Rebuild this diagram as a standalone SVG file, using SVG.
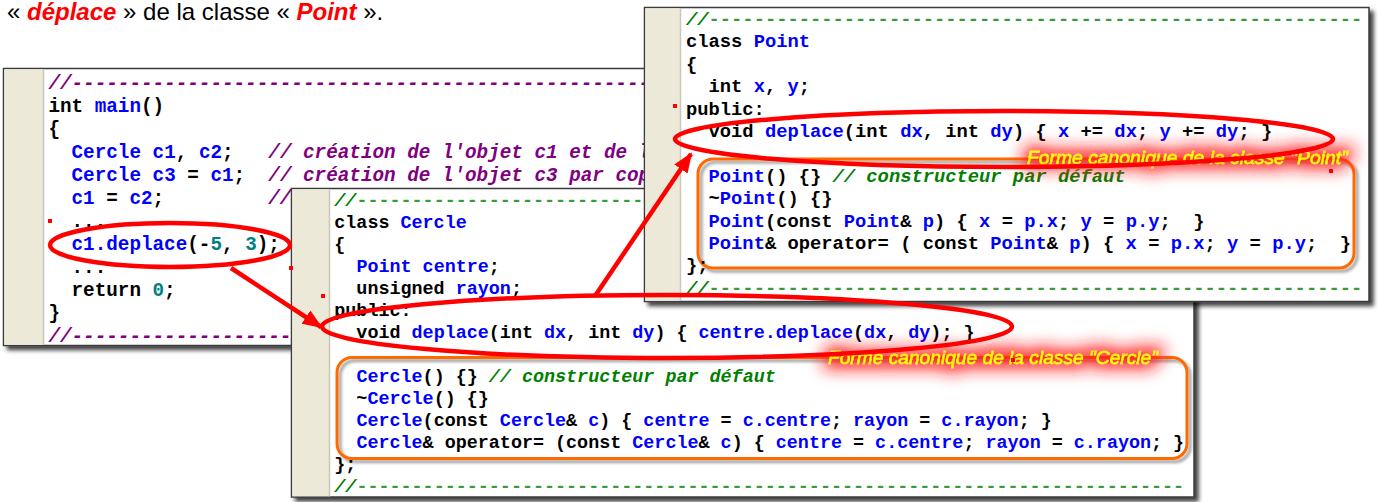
<svg xmlns="http://www.w3.org/2000/svg" width="1379" height="502" viewBox="0 0 1379 502">
<style>
.code{font-family:"Liberation Mono","DejaVu Sans Mono",monospace;font-weight:bold;fill:#000;white-space:pre}
.L{font-size:19.3px}
.M{font-size:18.4px}
.R{font-size:18.8px}
.b{fill:#0000ff}
.n{fill:#008080}
.cp{fill:#800080;font-style:italic}
.cg{fill:#008000;font-style:italic}
.dg{fill:#3a9a3a}
.win{fill:#fff;stroke:#3a3a3a;stroke-width:1.5}
.gut{fill:#ECE9D8}
.sep{stroke:#c9c7b8;stroke-width:1.5}
.obox{fill:none;stroke:#ff6a00;stroke-width:3}
.hl{fill:none;stroke:#ff0000;stroke-width:4.5}
.arr{stroke:#ff0000;stroke-width:4.5;fill:none}
.lbl{font-family:"Liberation Sans",Arial,sans-serif;font-style:italic;font-size:19px;fill:#ffff00;stroke:#ffee00;stroke-width:0.4}
.top{font-family:"Liberation Sans",Arial,sans-serif;font-size:24px;fill:#000;white-space:pre}
.red{fill:#ff0000;font-weight:bold;font-style:italic}
.mk{fill:#ff0000}
</style>
<defs>
<filter id="shadow" x="-5%" y="-5%" width="110%" height="115%">
<feGaussianBlur in="SourceAlpha" stdDeviation="2"/>
<feOffset dx="4" dy="4" result="o"/>
<feComponentTransfer><feFuncA type="linear" slope="0.75"/></feComponentTransfer>
<feMerge><feMergeNode/><feMergeNode in="SourceGraphic"/></feMerge>
</filter>
<filter id="bshadow" x="-5%" y="-10%" width="110%" height="130%">
<feGaussianBlur in="SourceAlpha" stdDeviation="1.5"/>
<feOffset dx="3" dy="3"/>
<feComponentTransfer><feFuncA type="linear" slope="0.4"/></feComponentTransfer>
<feMerge><feMergeNode/><feMergeNode in="SourceGraphic"/></feMerge>
</filter>
<filter id="glow" x="-15%" y="-150%" width="130%" height="400%">
<feMorphology in="SourceAlpha" operator="dilate" radius="5" result="d"/>
<feGaussianBlur in="d" stdDeviation="8" result="bl"/>
<feFlood flood-color="#ff1a1a" flood-opacity="0.9"/>
<feComposite in2="bl" operator="in" result="g"/>
<feMerge><feMergeNode in="g"/><feMergeNode in="SourceGraphic"/></feMerge>
</filter>
<clipPath id="clipL"><rect x="44" y="69" width="640" height="276"/></clipPath>
<clipPath id="clipM"><rect x="330" y="189" width="863" height="308"/></clipPath>
<clipPath id="clipR"><rect x="681" y="8" width="687" height="293"/></clipPath>
<marker id="ah" markerWidth="22" markerHeight="18" refX="18" refY="8" orient="auto" markerUnits="userSpaceOnUse">
<path d="M0,0 L20,8 L0,16 z" fill="#ff0000"/>
</marker>
</defs>

<text class="top" x="7" y="20" xml:space="preserve">« <tspan class="red">déplace</tspan> » de la classe « <tspan class="red">Point</tspan> ».</text>

<g id="win-main">
<rect class="win" x="3.5" y="68.5" width="680" height="277" filter="url(#shadow)"/>
<rect class="gut" x="4.3" y="69.3" width="39" height="275.5"/>
<line class="sep" x1="43.5" y1="69" x2="43.5" y2="345"/>
<g clip-path="url(#clipL)" class="code L">
<text xml:space="preserve" x="48.4" y="88.7"><tspan class="cp">//----------------------------------------------------</tspan></text>
<text xml:space="preserve" x="48.4" y="111.7">int <tspan class="b">main</tspan>()</text>
<text xml:space="preserve" x="48.4" y="134.7">{</text>
<text xml:space="preserve" x="48.4" y="157.7">  <tspan class="b">Cercle</tspan> <tspan class="b">c1</tspan>, <tspan class="b">c2</tspan>;   <tspan class="cp">// création de l'objet c1 et de l</tspan></text>
<text xml:space="preserve" x="48.4" y="180.7">  <tspan class="b">Cercle</tspan> <tspan class="b">c3</tspan> = <tspan class="b">c1</tspan>;  <tspan class="cp">// création de l'objet c3 par cop</tspan></text>
<text xml:space="preserve" x="48.4" y="203.7">  <tspan class="b">c1</tspan> = <tspan class="b">c2</tspan>;         <tspan class="cp">//</tspan></text>
<text xml:space="preserve" x="48.4" y="226.7">  ...</text>
<text xml:space="preserve" x="48.4" y="249.7">  <tspan class="b">c1.deplace</tspan>(-<tspan class="n">5</tspan>, <tspan class="n">3</tspan>);</text>
<text xml:space="preserve" x="48.4" y="272.7">  ...</text>
<text xml:space="preserve" x="48.4" y="295.7">  return <tspan class="n">0</tspan>;</text>
<text xml:space="preserve" x="48.4" y="318.7">}</text>
<text xml:space="preserve" x="48.4" y="341.7"><tspan class="cp">//----------------------</tspan></text>
</g>
</g>

<g id="win-cercle">
<rect class="win" x="291.5" y="188.5" width="902.5" height="308.5" filter="url(#shadow)"/>
<rect class="gut" x="292.3" y="189.3" width="36.7" height="307"/>
<line class="sep" x1="329.5" y1="189" x2="329.5" y2="496.5"/>
<rect class="obox" x="337" y="357.5" width="850" height="101" rx="15" filter="url(#bshadow)"/>
<g clip-path="url(#clipM)" class="code M">
<text xml:space="preserve" x="334.3" y="206"><tspan class="cg">//</tspan><tspan class="dg">---------------------------</tspan></text>
<text xml:space="preserve" x="334.3" y="228">class <tspan class="b">Cercle</tspan></text>
<text xml:space="preserve" x="334.3" y="250">{</text>
<text xml:space="preserve" x="334.3" y="272">  <tspan class="b">Point</tspan> <tspan class="b">centre</tspan>;</text>
<text xml:space="preserve" x="334.3" y="294">  unsigned <tspan class="b">rayon</tspan>;</text>
<text xml:space="preserve" x="334.3" y="316">public:</text>
<text xml:space="preserve" x="334.3" y="338">  void <tspan class="b">deplace</tspan>(int <tspan class="b">dx</tspan>, int <tspan class="b">dy</tspan>) { <tspan class="b">centre.deplace</tspan>(<tspan class="b">dx</tspan>, <tspan class="b">dy</tspan>); }</text>
<text xml:space="preserve" x="334.3" y="382">  <tspan class="b">Cercle</tspan>() {} <tspan class="cg">// constructeur par défaut</tspan></text>
<text xml:space="preserve" x="334.3" y="404">  ~<tspan class="b">Cercle</tspan>() {}</text>
<text xml:space="preserve" x="334.3" y="426">  <tspan class="b">Cercle</tspan>(const <tspan class="b">Cercle</tspan>&amp; <tspan class="b">c</tspan>) { <tspan class="b">centre</tspan> = <tspan class="b">c.centre</tspan>; <tspan class="b">rayon</tspan> = <tspan class="b">c.rayon</tspan>; }</text>
<text xml:space="preserve" x="334.3" y="448">  <tspan class="b">Cercle</tspan>&amp; operator= (const <tspan class="b">Cercle</tspan>&amp; <tspan class="b">c</tspan>) { <tspan class="b">centre</tspan> = <tspan class="b">c.centre</tspan>; <tspan class="b">rayon</tspan> = <tspan class="b">c.rayon</tspan>; }</text>
<text xml:space="preserve" x="334.3" y="470">};</text>
<text xml:space="preserve" x="334.3" y="492"><tspan class="cg">//</tspan><tspan class="dg">---------------------------------------------------------------------------</tspan></text>
</g>
</g>

<g id="win-point">
<rect class="win" x="644.5" y="7.5" width="724.5" height="294" filter="url(#shadow)"/>
<rect class="gut" x="645.3" y="8.3" width="35" height="292.5"/>
<line class="sep" x1="680.5" y1="8" x2="680.5" y2="301"/>
<rect class="obox" x="698" y="159" width="656" height="109" rx="15" filter="url(#bshadow)"/>
<g clip-path="url(#clipR)" class="code R">
<text xml:space="preserve" x="686" y="25"><tspan class="cg">//</tspan><tspan class="dg">----------------------------------------------------------</tspan></text>
<text xml:space="preserve" x="686" y="47.4">class <tspan class="b">Point</tspan></text>
<text xml:space="preserve" x="686" y="69.8">{</text>
<text xml:space="preserve" x="686" y="92.2">  int <tspan class="b">x</tspan>, <tspan class="b">y</tspan>;</text>
<text xml:space="preserve" x="686" y="114.6">public:</text>
<text xml:space="preserve" x="686" y="137">  void <tspan class="b">deplace</tspan>(int <tspan class="b">dx</tspan>, int <tspan class="b">dy</tspan>) { <tspan class="b">x</tspan> += <tspan class="b">dx</tspan>; <tspan class="b">y</tspan> += <tspan class="b">dy</tspan>; }</text>
<text xml:space="preserve" x="686" y="181.8">  <tspan class="b">Point</tspan>() {} <tspan class="cg">// constructeur par défaut</tspan></text>
<text xml:space="preserve" x="686" y="204.2">  ~<tspan class="b">Point</tspan>() {}</text>
<text xml:space="preserve" x="686" y="226.6">  <tspan class="b">Point</tspan>(const <tspan class="b">Point</tspan>&amp; <tspan class="b">p</tspan>) { <tspan class="b">x</tspan> = <tspan class="b">p.x</tspan>; <tspan class="b">y</tspan> = <tspan class="b">p.y</tspan>;  }</text>
<text xml:space="preserve" x="686" y="249">  <tspan class="b">Point</tspan>&amp; operator= ( const <tspan class="b">Point</tspan>&amp; <tspan class="b">p</tspan>) { <tspan class="b">x</tspan> = <tspan class="b">p.x</tspan>; <tspan class="b">y</tspan> = <tspan class="b">p.y</tspan>;  }</text>
<text xml:space="preserve" x="686" y="271.4">};</text>
<text xml:space="preserve" x="686" y="293.8"><tspan class="cg">//</tspan><tspan class="dg">----------------------------------------------------------</tspan></text>
</g>
</g>

<g id="labels">
<text class="lbl" x="1027" y="164" textLength="321" lengthAdjust="spacingAndGlyphs" filter="url(#glow)">Forme canonique de la classe "Point"</text>
<text class="lbl" x="828" y="364" textLength="330" lengthAdjust="spacingAndGlyphs" filter="url(#glow)">Forme canonique de la classe "Cercle"</text>
</g>

<g id="highlights">
<ellipse class="hl" cx="170" cy="245" rx="120" ry="22"/>
<ellipse class="hl" cx="667" cy="326.5" rx="345" ry="31.5"/>
<ellipse class="hl" cx="1004" cy="139" rx="329" ry="28"/>
</g>

<g id="connectors">
<line class="arr" x1="231" y1="268" x2="321" y2="327" marker-end="url(#ah)"/>
<line class="arr" x1="595" y1="296" x2="691" y2="154" marker-end="url(#ah)"/>
</g>

<g id="marks">
<rect class="mk" x="48" y="219" width="4" height="4"/>
<rect class="mk" x="289" y="266" width="4" height="4"/>
<rect class="mk" x="321" y="294" width="4" height="4"/>
<rect class="mk" x="673" y="104" width="4" height="4"/>
<rect class="mk" x="1329" y="169" width="4" height="4"/>
<rect class="mk" x="1011" y="358" width="4" height="4"/>
</g>
</svg>
